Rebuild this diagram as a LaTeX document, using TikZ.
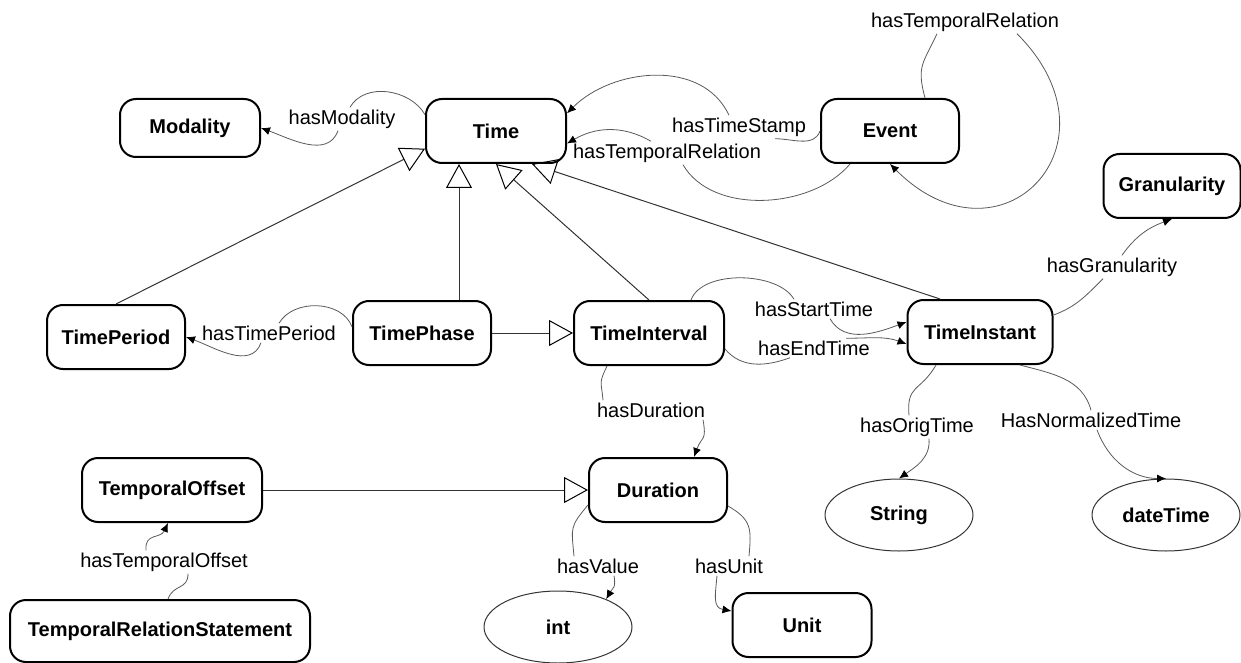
\documentclass[tikz,border=0pt]{standalone}
\usepackage{fontspec}
\setmainfont{Liberation Sans}
\usetikzlibrary{arrows.meta,shapes.geometric}
\begin{document}
\begin{tikzpicture}[x=0.5pt,y=-0.5pt,
	cls/.style={rectangle,draw,line width=1pt,rounded corners=8pt,font=\bfseries\fontsize{10}{12}\selectfont,minimum height=32pt,inner sep=0pt},
	dtype/.style={ellipse,draw,line width=0.5pt,black!80,text=black,font=\bfseries\fontsize{10}{12}\selectfont,minimum width=74pt,minimum height=36pt,inner sep=0pt},
	lbl/.style={font=\fontsize{10}{12}\selectfont,inner sep=1pt},
	rel/.style={line width=0.4pt,black!65},
	relto/.style={rel,-{Latex[length=4.5pt,width=4pt,black]}},
	isa/.style={line width=0.5pt,black!80,-{Triangle[open,length=12pt,width=13pt,black]}}]
	\useasboundingbox (0,0) rectangle (1241,663);
	\node[cls,minimum width=70pt,minimum height=29pt] (Modality) at (190,128) {Modality};
	\node[cls,minimum width=70pt] (Time) at (496,131) {Time};
	\node[cls,minimum width=69pt] (Event) at (890,131) {Event};
	\node[cls,minimum width=68.5pt] (Granularity) at (1172,186) {Granularity};
	\node[cls,minimum width=69pt] (TimePeriod) at (116,337) {TimePeriod};
	\node[cls,minimum width=69pt] (TimePhase) at (422,333) {TimePhase};
	\node[cls,minimum width=75pt] (TimeInterval) at (649,333) {TimeInterval};
	\node[cls,minimum width=72.5pt] (TimeInstant) at (980,332) {TimeInstant};
	\node[cls,minimum width=90pt] (TemporalOffset) at (172,490) {TemporalOffset};
	\node[cls,minimum width=69pt] (Duration) at (658,490) {Duration};
	\node[cls,minimum width=150pt,minimum height=31pt] (TemporalRelationStatement) at (160,631) {TemporalRelationStatement};
	\node[cls,minimum width=69.5pt] (Unit) at (802,625) {Unit};
	\node[dtype] (String) at (899,515) {String};
	\node[dtype] (dateTime) at (1166,515) {dateTime};
	\node[dtype] (int) at (558,627) {int};
	\node[lbl] (mod) at (342,119) {hasModality};
	\node[lbl] (ts) at (739,127) {hasTimeStamp};
	\node[lbl] (trm) at (667,153) {hasTemporalRelation};
	\node[lbl] (trt) at (965,22) {hasTemporalRelation};
	\node[lbl] (gr) at (1112,267) {hasGranularity};
	\node[lbl] (tp) at (269,333) {hasTimePeriod};
	\node[lbl] (st) at (814,309) {hasStartTime};
	\node[lbl] (et) at (814,348) {hasEndTime};
	\node[lbl] (dur) at (651,410) {hasDuration};
	\node[lbl] (ot) at (917,427) {hasOrigTime};
	\node[lbl] (nt) at (1091,420) {HasNormalizedTime};
	\node[lbl] (tol) at (164,562) {hasTemporalOffset};
	\node[lbl] (hv) at (598,566) {hasValue};
	\node[lbl] (hu) at (729,566) {hasUnit};
	\draw[isa] (TimePeriod.north) -- (Time.194);
	\draw[isa] ([xshift=18.5pt]TimePhase.north) -- ([xshift=-18.5pt]Time.south);
	\draw[isa] (TimeInterval.north) -- (Time.south);
	\draw[isa] ([xshift=-20pt]TimeInstant.north) -- ([xshift=18pt]Time.south);
	\draw[isa] (TimePhase.east) -- (TimeInterval.west);
	\draw[isa] (TemporalOffset.east) -- (Duration.west);
	\draw[relto] (Time.167) to[out=120,in=60] ([xshift=4pt]mod.north) ([xshift=-2pt]mod.south) to[out=-110,in=-20] (Modality.east);
	\draw[relto] (Event.west) to[out=-110,in=0] ([xshift=18pt]ts.south) ([xshift=-5pt]ts.north) to[out=115,in=45] (Time.14);
	\draw[relto] ([xshift=-20pt]Event.south) to[out=-130,in=-60,looseness=0.9] ([xshift=8pt]trm.south) ([xshift=-8pt]trm.north) to[out=150,in=30] (Time.-10);
	\draw[relto] ([xshift=17.5pt]Event.north) to[out=105,in=-115,looseness=1.3] ([xshift=-14pt]trt.south) ([xshift=26pt]trt.south) to[out=-45,in=-45,looseness=2.2] (Event.south);
	\draw[relto] (TimeInstant.13) to[out=20,in=-135] ([xshift=-4.5pt]gr.south) ([xshift=5pt]gr.north) to[out=55,in=200] (Granularity.south);
	\draw[relto] (TimePhase.175) to[out=110,in=60] ([xshift=5pt]tp.north) ([xshift=-4pt]tp.south) to[out=-110,in=-20] (TimePeriod.east);
	\draw[relto] ([xshift=21pt]TimeInterval.north) to[out=70,in=120,looseness=0.8] ([xshift=-10pt]st.north) ([xshift=8pt]st.south) to[out=-60,in=200] ([yshift=5pt]TimeInstant.west);
	\draw[relto] ([yshift=-8pt]TimeInterval.east) to[out=-50,in=200] ([xshift=-12pt]et.south) ([xshift=16pt]et.north) to[out=0,in=160] ([yshift=-6pt]TimeInstant.west);
	\draw[relto] ([xshift=-21pt]TimeInterval.south) to[out=-115,in=95,looseness=1.5] ([xshift=-24pt]dur.north) ([xshift=26pt]dur.south) to[out=-80,in=70,looseness=1.5] ([xshift=18pt]Duration.north);
	\draw[relto] ([xshift=-22pt]TimeInstant.south) to[out=-120,in=95,looseness=1.4] ([xshift=-4pt]ot.north) ([xshift=6pt]ot.south) to[out=-85,in=35] (String.north);
	\draw[relto] ([xshift=20pt]TimeInstant.south) to[out=-15,in=105] (nt.north) ([xshift=3pt]nt.south) to[out=-70,in=180] (dateTime.north);
	\draw[relto] ([xshift=4pt]TemporalRelationStatement.north) to[out=70,in=-90,looseness=1.3] ([xshift=12pt]tol.south) ([xshift=-9pt]tol.north) to[out=95,in=-115,looseness=1.3] ([xshift=-2pt]TemporalOffset.south);
	\draw[relto] ([yshift=-7.5pt]Duration.west) to[out=-130,in=95,looseness=1.4] ([xshift=-12pt]hv.north) ([xshift=8pt]hv.south) to[out=-80,in=60,looseness=1.3] (int.30);
	\draw[relto] ([yshift=-8pt]Duration.east) to[out=-30,in=85,looseness=1.3] ([xshift=10pt]hu.north) ([xshift=-6pt]hu.south) to[out=-95,in=170,looseness=1.3] ([yshift=7pt]Unit.west);
\end{tikzpicture}
\end{document}
